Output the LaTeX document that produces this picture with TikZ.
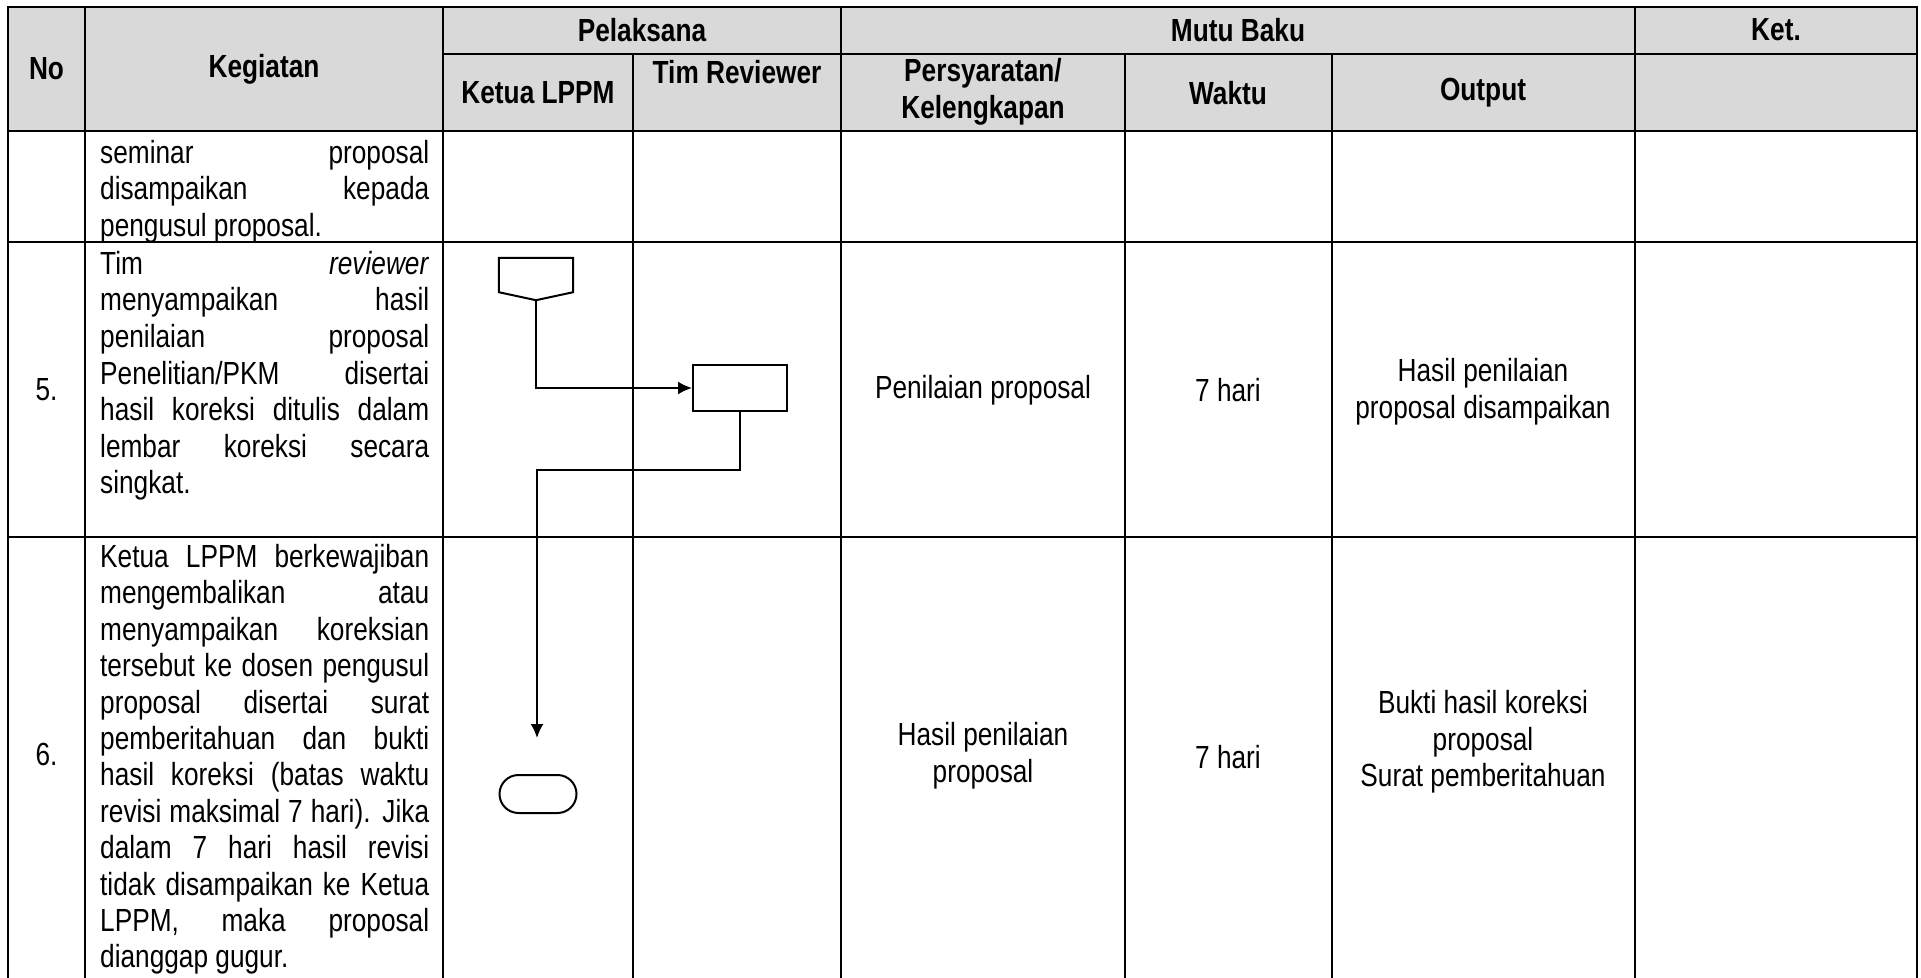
\documentclass[tikz,border=0pt]{standalone}
\usepackage{fontspec}
\setmainfont{Liberation Sans}[FakeStretch=0.82]
\usetikzlibrary{shapes.misc,arrows.meta}
\definecolor{hdr}{HTML}{D9D9D9}
\newcommand{\jl}[1]{\makebox[329pt][s]{#1}}
\begin{document}
\begin{tikzpicture}[x=1pt,y=-1pt,
  grid/.style={line width=2.6pt, line cap=rect},
  fl/.style={line width=2pt},
  arr/.style={fl,-{Latex[length=14pt,width=13pt]}},
  hd/.style={font=\fontsize{32}{36.6}\selectfont\bfseries, inner sep=0, align=center},
  bd/.style={font=\fontsize{32}{36.6}\selectfont, inner sep=0, align=center},
  kg/.style={font=\fontsize{32}{36.6}\selectfont, inner sep=0, align=left, anchor=north west},
  kgb/.style={font=\fontsize{32}{36.4}\selectfont, inner sep=0, align=left, anchor=north west},
]
\useasboundingbox (0,0) rectangle (1921,977);
% header background
\fill[hdr] (8,7) rectangle (1917,131);
% grid
\draw[grid] (8,7) -- (1917,7);
\draw[grid] (443,54) -- (1917,54);
\draw[grid] (8,131) -- (1917,131);
\draw[grid] (8,242) -- (1917,242);
\draw[grid] (8,537) -- (1917,537);
\draw[grid] (8,7) -- (8,980);
\draw[grid] (85,7) -- (85,980);
\draw[grid] (443,7) -- (443,980);
\draw[grid] (633,54) -- (633,980);
\draw[grid] (841,7) -- (841,980);
\draw[grid] (1125,54) -- (1125,980);
\draw[grid] (1332,54) -- (1332,980);
\draw[grid] (1635,7) -- (1635,980);
\draw[grid] (1917,7) -- (1917,980);
% header text
\node[hd] (hno) at (46.5,69) {No};
\node[hd] (hkeg) at (264,69) {Kegiatan};
\node[hd] (hpel) at (642,30) {Pelaksana};
\node[hd] (hmutu) at (1238,30) {Mutu Baku};
\node[hd] (hket) at (1776,30) {Ket.};
\node[hd] (hketua) at (538,93) {Ketua LPPM};
\node[hd] (htim) at (737,72) {Tim Reviewer};
\node[hd] (hpers) at (983,92) {Persyaratan/\\Kelengkapan};
\node[hd] (hwaktu) at (1228,93) {Waktu};
\node[hd] (hout) at (1483,93) {Output};
% body text
\node[kg] (k4) at (100,140) {\jl{seminar proposal}\\\jl{disampaikan kepada}\\pengusul proposal.};
\node[bd] (n5) at (46.5,390) {5.};
\node[kg] (k5) at (100,251) {\jl{Tim \textit{reviewer}}\\\jl{menyampaikan hasil}\\\jl{penilaian proposal}\\\jl{Penelitian/PKM disertai}\\\jl{hasil koreksi ditulis dalam}\\\jl{lembar koreksi secara}\\singkat.};
\node[bd] (p5) at (983,390) {Penilaian proposal};
\node[bd] (w5) at (1228,390) {7 hari};
\node[bd] (o5) at (1483,392) {Hasil penilaian\\proposal disampaikan};
\node[bd] (n6) at (46.5,754) {6.};
\node[kgb] (k6) at (100,544) {\jl{Ketua LPPM berkewajiban}\\\jl{mengembalikan atau}\\\jl{menyampaikan koreksian}\\\jl{tersebut ke dosen pengusul}\\\jl{proposal disertai surat}\\\jl{pemberitahuan dan bukti}\\\jl{hasil koreksi (batas waktu}\\\jl{revisi maksimal 7 hari). Jika}\\\jl{dalam 7 hari hasil revisi}\\\jl{tidak disampaikan ke Ketua}\\\jl{LPPM, maka proposal}\\dianggap gugur.};
\node[bd] (p6) at (983,756) {Hasil penilaian\\proposal};
\node[bd] (w6) at (1228,757) {7 hari};
\node[bd] (o6) at (1483,742) {Bukti hasil koreksi\\proposal\\Surat pemberitahuan};
% flowchart
\node[minimum width=74pt, minimum height=34pt, inner sep=0] (pent) at (536,275) {};
\coordinate (ptip) at ([yshift=-8pt]pent.south);
\draw[fl] (pent.north west) -- (pent.north east) -- (pent.south east) -- (ptip) -- (pent.south west) -- cycle;
\node[draw, fl, minimum width=94pt, minimum height=46pt, inner sep=0] (proc) at (740,388) {};
\node[draw, fl, rounded rectangle, minimum width=77pt, minimum height=38pt, inner sep=0] (term) at (538,794) {};
\coordinate (aend) at (537,738);
\draw[arr] (ptip) |- (proc.west);
\draw[arr] (proc.south) -- ++(0,58) -| (aend);
\end{tikzpicture}
\end{document}
